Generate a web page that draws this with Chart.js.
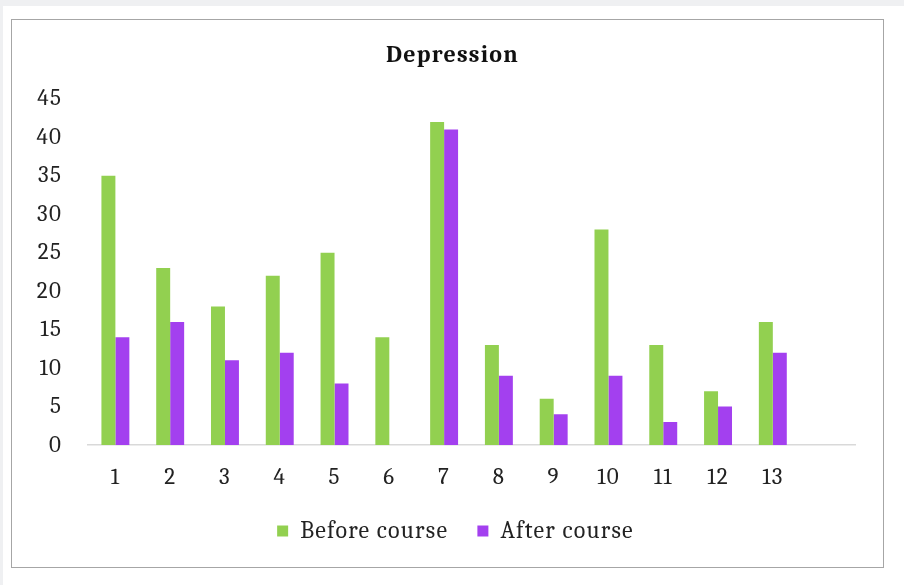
<!DOCTYPE html>
<html>
<head>
<meta charset="utf-8">
<script src="https://cdn.jsdelivr.net/npm/chart.js@4"></script>
<style>
  html, body { margin: 0; padding: 0; }
  body { width: 904px; height: 585px; background: #eff0f2; position: relative; overflow: hidden; }
  #sheet { position: absolute; left: 3px; top: 6px; width: 901px; height: 579px; background: #ffffff; }
  #frame { position: absolute; left: 11px; top: 19px; width: 871px; height: 547px; border: 1.5px solid #a6a6a6; background: #fff; }
  #frame canvas { display: block; }
</style>
</head>
<body>
<div id="sheet"></div>
<div id="frame"><canvas id="c" width="871" height="547"></canvas></div>
<script>
const categories = ['1','2','3','4','5','6','7','8','9','10','11','12','13',''];
const beforeCourse = [35, 23, 18, 22, 25, 14, 42, 13, 6, 28, 13, 7, 16, null];
const afterCourse  = [14, 16, 11, 12, 8, 0, 41, 9, 4, 9, 3, 5, 12, null];
const yTicks = [0, 5, 10, 15, 20, 25, 30, 35, 40, 45];
const chartTitle = 'Depression';
const seriesNames = ['Before course', 'After course'];

const serif = "Cambria, 'DejaVu Serif', 'Liberation Serif', serif";

const spacingPlugin = {
  id: 'spacing',
  beforeUpdate(chart) { chart.ctx.letterSpacing = '1.2px'; },
  beforeLayout(chart) { chart.ctx.letterSpacing = '1.2px'; },
  afterLayout(chart) {
    if (chart.titleBlock) { chart.titleBlock.left += 19; chart.titleBlock.right += 19; }
    if (chart.legend) { chart.legend.left += 22; chart.legend.right += 22; }
  },
  beforeDraw(chart) { chart.ctx.letterSpacing = '1.2px'; }
};

new Chart(document.getElementById('c'), {
  type: 'bar',
  plugins: [spacingPlugin],
  data: {
    labels: categories,
    datasets: [
      { label: seriesNames[0], data: beforeCourse, backgroundColor: '#92d050', borderWidth: 0,
        categoryPercentage: 0.51, barPercentage: 1.0 },
      { label: seriesNames[1], data: afterCourse, backgroundColor: '#a340ef', borderWidth: 0,
        categoryPercentage: 0.51, barPercentage: 1.0 }
    ]
  },
  options: {
    responsive: false,
    animation: false,
    events: [],
    layout: { padding: { left: 0, right: 28, top: 0, bottom: 14 } },
    plugins: {
      title: {
        display: true,
        text: chartTitle,
        color: '#111',
        font: { family: serif, size: 24, weight: 'bold' },
        padding: { top: 21, bottom: 29 }
      },
      legend: {
        display: true,
        position: 'bottom',
        labels: {
          color: '#222',
          font: { family: serif, size: 24 },
          boxWidth: 11,
          boxHeight: 11,
          padding: 10,
          generateLabels(chart) {
            const items = Chart.defaults.plugins.legend.labels.generateLabels(chart);
            if (items.length) items[0].text = items[0].text + '\u2002\u2009';
            return items;
          }
        }
      },
      tooltip: { enabled: false }
    },
    scales: {
      x: {
        grid: { display: false, drawTicks: false },
        border: { display: true, color: '#d9d9d9', width: 1.5 },
        ticks: { color: '#222', font: { family: serif, size: 23 }, padding: 19, maxRotation: 0, autoSkip: false },
        afterFit: (s) => { s.height = 64; }
      },
      y: {
        min: 0, max: 45,
        afterBuildTicks: (s) => { s.ticks = yTicks.map(v => ({ value: v })); },
        grid: { display: false, drawTicks: false },
        border: { display: false },
        ticks: { color: '#222', font: { family: serif, size: 23 }, padding: 26 },
        afterFit: (s) => { s.width = 76; }
      }
    }
  }
});
</script>
</body>
</html>
